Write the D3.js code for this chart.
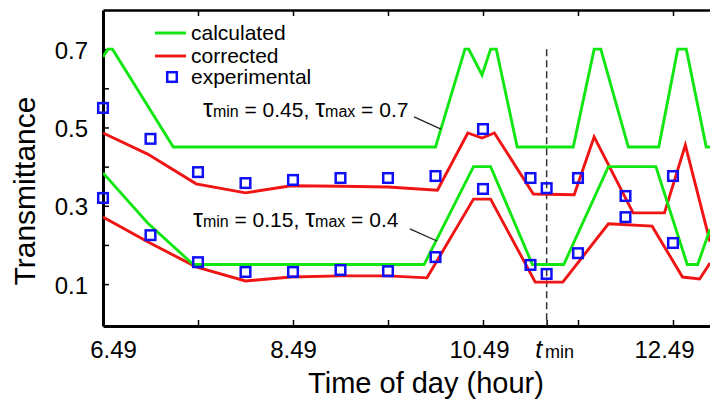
<!DOCTYPE html>
<html>
<head>
<meta charset="utf-8">
<script src="https://cdn.jsdelivr.net/npm/d3@7"></script>
<style>
  body { margin: 0; background: #fff; }
  svg text { font-family: "Liberation Sans", Arial, Helvetica, sans-serif; fill: #000; }
</style>
</head>
<body>
<svg width="710" height="406"></svg>
<script>
// experimental samples (hour of day)
const sampleHours = [6.49, 6.99, 7.49, 7.99, 8.49, 8.99, 9.49, 9.99, 10.49, 10.99, 11.16, 11.49, 11.99, 12.49];
const expHigh = [0.550, 0.471, 0.386, 0.358, 0.366, 0.371, 0.371, 0.376, 0.496, 0.371, 0.345, 0.371, 0.325, 0.376];
const expLow = [0.320, 0.225, 0.156, 0.131, 0.131, 0.136, 0.133, 0.169, 0.343, 0.149, 0.126, 0.179, 0.271, 0.205];

// curves as [hour, transmittance] vertices
const calcHigh = [[6.49, 0.68], [6.54, 0.70], [6.59, 0.70], [7.23, 0.45], [9.99, 0.45], [10.30, 0.70], [10.34, 0.70],
  [10.48, 0.634], [10.57, 0.70], [10.63, 0.70], [10.85, 0.45], [11.44, 0.45], [11.66, 0.70], [11.73, 0.70],
  [12.02, 0.45], [12.34, 0.45], [12.54, 0.70], [12.63, 0.70], [12.84, 0.45], [12.99, 0.45]];
const corrHigh = [[6.49, 0.486], [6.96, 0.432], [7.47, 0.356], [7.99, 0.333], [8.47, 0.351], [8.99, 0.350],
  [9.49, 0.348], [10.01, 0.340], [10.33, 0.486], [10.48, 0.473], [10.61, 0.486], [11.02, 0.330], [11.45, 0.328],
  [11.66, 0.476], [12.07, 0.282], [12.40, 0.282], [12.62, 0.455], [12.88, 0.208]];
const calcLow = [[6.49, 0.384], [6.96, 0.256], [7.44, 0.15], [9.87, 0.15], [10.39, 0.40], [10.57, 0.40],
  [11.01, 0.15], [11.34, 0.15], [11.81, 0.40], [12.31, 0.40], [12.64, 0.15], [12.75, 0.15], [12.88, 0.24]];
const corrLow = [[6.49, 0.271], [6.96, 0.208], [7.47, 0.144], [7.99, 0.108], [8.47, 0.118], [8.99, 0.121],
  [9.49, 0.121], [9.90, 0.116], [10.39, 0.317], [10.57, 0.317], [11.04, 0.105], [11.33, 0.105], [11.81, 0.254],
  [12.27, 0.248], [12.59, 0.118], [12.77, 0.113], [12.88, 0.154]];

const tMin = 11.16;
const xTickValues = [6.49, 7.49, 8.49, 9.49, 10.49, 11.16, 11.49, 12.49];
const xTickLabels = ["6.49", "", "8.49", "", "10.49", "", "", "12.49"];
const topTickValues = [7.49, 8.49, 9.49, 10.49, 11.49, 12.49];
const yTickValues = [0.1, 0.2, 0.3, 0.4, 0.5, 0.6, 0.7];
const yTickLabels = ["0.1", "", "0.3", "", "0.5", "", "0.7"];

const svg = d3.select("svg");
const green = "#12e612";
const red = "#f01414";
const blue = "#1010f5";

const x = d3.scaleLinear().domain([6.49, 12.99]).range([103, 720.5]);
const y = d3.scaleLinear().domain([-0.007, 0.8]).range([326, 10]);

// axes
const labelShift = { "6.49": 10, "10.49": -4, "12.49": -9 };

svg.append("g")
  .attr("transform", "translate(0,10)")
  .call(d3.axisTop(x).tickValues(topTickValues).tickSizeInner(-6).tickSizeOuter(0).tickFormat(""))
  .call(g => g.select(".domain").attr("stroke-width", 2.5))
  .call(g => g.selectAll(".tick line").attr("stroke-width", 1.5));

const xg = svg.append("g")
  .attr("transform", "translate(0,326)")
  .call(d3.axisBottom(x).tickValues(xTickValues).tickSizeInner(-6).tickSizeOuter(0)
    .tickPadding(15).tickFormat((d, i) => xTickLabels[i]))
  .call(g => g.select(".domain").attr("stroke-width", 3))
  .call(g => g.selectAll(".tick line").attr("stroke-width", 1.5))
  .call(g => g.selectAll(".tick text")
    .attr("font-size", 24).attr("font-family", null)
    .attr("dx", d => labelShift[d.toFixed(2)] || 0));

// t_min label
xg.selectAll(".tick").filter(d => d === tMin).select("text")
  .attr("text-anchor", "start").attr("dx", -12)
  .call(t => {
    t.append("tspan").attr("font-style", "italic").attr("font-size", 25).text("t");
    t.append("tspan").attr("font-size", 18).attr("dx", 3).text("min");
  });

svg.append("g")
  .attr("transform", "translate(103,0)")
  .call(d3.axisLeft(y).tickValues(yTickValues).tickSizeInner(-6).tickSizeOuter(0)
    .tickPadding(15).tickFormat((d, i) => yTickLabels[i]))
  .call(g => g.select(".domain").attr("stroke-width", 3))
  .call(g => g.selectAll(".tick line").attr("stroke-width", 1.5))
  .call(g => g.selectAll(".tick text").attr("font-size", 24).attr("font-family", null).attr("dy", "0.38em"));

// axis titles
svg.append("text")
  .attr("transform", "translate(35,191) rotate(-90)")
  .attr("text-anchor", "middle")
  .attr("font-size", 30)
  .text("Transmittance");

svg.append("text")
  .attr("x", 426).attr("y", 393)
  .attr("text-anchor", "middle")
  .attr("font-size", 29)
  .text("Time of day (hour)");

// t_min marker
svg.append("line")
  .attr("x1", x(tMin)).attr("x2", x(tMin))
  .attr("y1", y(0.7)).attr("y2", y(-0.007))
  .attr("stroke", "#333").attr("stroke-width", 1.5)
  .attr("stroke-dasharray", "7,4");

// curves
svg.append("clipPath").attr("id", "plot")
  .append("rect").attr("x", 103).attr("y", 10).attr("width", 620).attr("height", 316);

const line = d3.line().x(d => x(d[0])).y(d => y(d[1]));
const curves = [
  { pts: corrHigh, color: red },
  { pts: corrLow, color: red },
  { pts: calcHigh, color: green },
  { pts: calcLow, color: green }
];
svg.append("g").attr("clip-path", "url(#plot)")
  .selectAll("path")
  .data(curves)
  .enter()
  .append("path")
  .attr("d", d => line(d.pts))
  .attr("fill", "none")
  .attr("stroke", d => d.color)
  .attr("stroke-width", 2.9)
  .attr("stroke-linejoin", "miter");

// experimental squares
const sq = 9.6;
const points = sampleHours.map((h, i) => [h, expHigh[i]])
  .concat(sampleHours.map((h, i) => [h, expLow[i]]));
svg.append("g")
  .selectAll("rect")
  .data(points)
  .enter()
  .append("rect")
  .attr("x", d => x(d[0]) - sq / 2)
  .attr("y", d => y(d[1]) - sq / 2)
  .attr("width", sq)
  .attr("height", sq)
  .attr("fill", "none")
  .attr("stroke", blue)
  .attr("stroke-width", 2.5);

// legend
const legend = svg.append("g").attr("transform", "translate(155,33)");
[["calculated", green], ["corrected", red]].forEach(([name, color], i) => {
  legend.append("line")
    .attr("x1", 0).attr("x2", 31).attr("y1", i * 23).attr("y2", i * 23)
    .attr("stroke", color).attr("stroke-width", 2.9);
  legend.append("text")
    .attr("x", 36).attr("y", i * 23).attr("dy", "0.35em")
    .attr("font-size", 21).text(name);
});
legend.append("rect")
  .attr("x", 17 - sq / 2).attr("y", 44 - sq / 2).attr("width", sq).attr("height", sq)
  .attr("fill", "none").attr("stroke", blue).attr("stroke-width", 2.5);
legend.append("text")
  .attr("x", 36).attr("y", 44).attr("dy", "0.35em")
  .attr("font-size", 21).text("experimental");

// tau annotations
const tauNotes = [
  { x: 203, y: 117, lo: "0.45", hi: "0.7", from: [9.764, 0.527], to: [10.048, 0.496] },
  { x: 193, y: 227, lo: "0.15", hi: "0.4", from: [9.72, 0.241], to: [10.006, 0.210] }
];
tauNotes.forEach(n => {
  const t = svg.append("text").attr("x", n.x).attr("y", n.y).attr("font-size", 21);
  t.append("tspan").attr("font-size", 25).text("τ");
  t.append("tspan").attr("font-size", 16).text("min");
  t.append("tspan").text(" = " + n.lo + ", ");
  t.append("tspan").attr("font-size", 25).text("τ");
  t.append("tspan").attr("font-size", 16).text("max");
  t.append("tspan").text(" = " + n.hi);
  svg.append("line")
    .attr("x1", x(n.from[0])).attr("y1", y(n.from[1]))
    .attr("x2", x(n.to[0])).attr("y2", y(n.to[1]))
    .attr("stroke", "#222").attr("stroke-width", 1.3);
});
</script>
</body>
</html>
